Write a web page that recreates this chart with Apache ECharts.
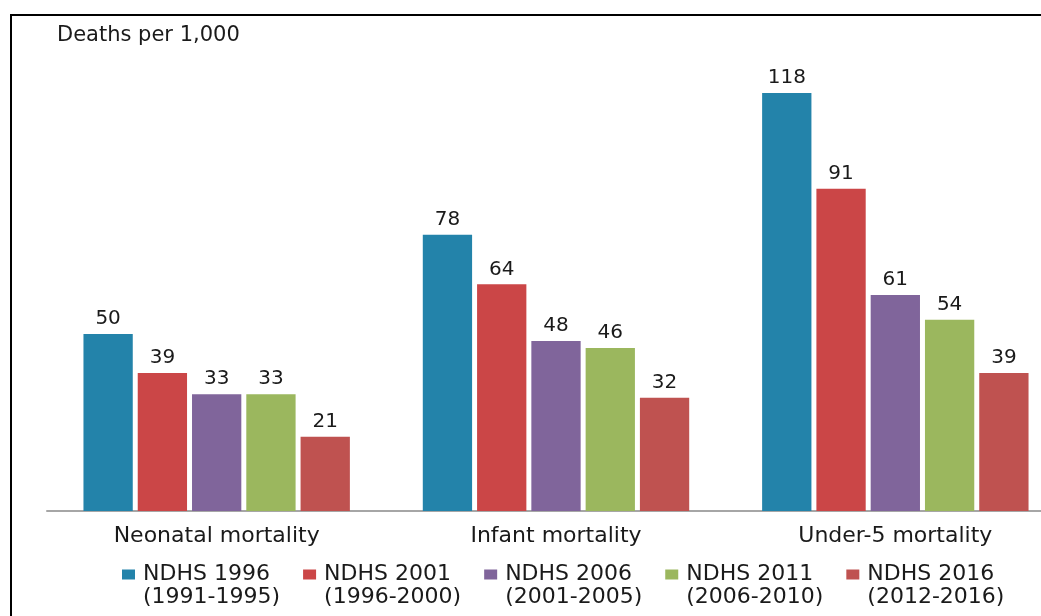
<!DOCTYPE html>
<html>
<head>
<meta charset="utf-8">
<style>
  html, body { margin: 0; padding: 0; background: #fff; }
  #chart { width: 1041px; height: 616px; }
</style>
<script src="https://cdn.jsdelivr.net/npm/echarts@6/dist/echarts.min.js"></script>
</head>
<body>
<div id="chart"></div>
<script>
// data
const categories = ['Neonatal mortality', 'Infant mortality', 'Under-5 mortality'];
const surveys = ['NDHS 1996', 'NDHS 2001', 'NDHS 2006', 'NDHS 2011', 'NDHS 2016'];
const periods = ['(1991-1995)', '(1996-2000)', '(2001-2005)', '(2006-2010)', '(2012-2016)'];
const ndhs1996 = [50, 78, 118];
const ndhs2001 = [39, 64, 91];
const ndhs2006 = [33, 48, 61];
const ndhs2011 = [33, 46, 54];
const ndhs2016 = [21, 32, 39];
const colors = ['#2383AA', '#CB4647', '#80659B', '#9BB75E', '#BF5250'];

const seriesValues = [ndhs1996, ndhs2001, ndhs2006, ndhs2011, ndhs2016];
const FONT = 'DejaVu Sans';

const chart = echarts.init(document.getElementById('chart'));
chart.setOption({
  animation: false,
  color: colors,
  title: {
    text: 'Deaths per 1,000',
    left: 57,
    top: 25,
    padding: 0,
    textStyle: {fontFamily: FONT, fontSize: 21, fontWeight: 'normal', color: '#1a1a1a'}
  },
  legend: {
    left: 122,
    top: 540,
    padding: 0,
    itemWidth: 13,
    itemHeight: 10,
    itemGap: 23,
    icon: 'rect',
    data: surveys,
    // empty first line so the icon sits next to the survey name, period below
    formatter(name) {
      return '\n' + name + '\n' + periods[surveys.indexOf(name)];
    },
    textStyle: {
      fontFamily: FONT,
      fontSize: 22,
      lineHeight: 23,
      color: '#1a1a1a',
      padding: [0, 0, 0, 3]
    }
  },
  // the plot runs past the right edge of the picture
  grid: {left: 47, width: 1018, top: 86, bottom: 105, outerBoundsMode: 'none'},
  xAxis: {
    type: 'category',
    data: categories,
    axisTick: {show: false},
    axisLine: {lineStyle: {color: '#a6a6a6', width: 2}},
    axisLabel: {
      interval: 0,
      margin: 14,
      fontFamily: FONT,
      fontSize: 22,
      color: '#1a1a1a'
    }
  },
  yAxis: {
    type: 'value',
    min: 0,
    max: 120,
    show: false,
    splitLine: {show: false}
  },
  graphic: [{
    type: 'polyline',
    silent: true,
    shape: {points: [[11, 700], [11, 15], [1100, 15]]},
    style: {fill: 'none', stroke: '#000', lineWidth: 2}
  }],
  series: surveys.map((name, i) => ({
    name: name,
    type: 'bar',
    data: seriesValues[i],
    barWidth: 49.3,
    barGap: '10.1%',
    label: {
      show: true,
      position: 'top',
      distance: 5,
      fontFamily: FONT,
      fontSize: 20,
      color: '#1a1a1a'
    }
  }))
});
</script>
</body>
</html>
